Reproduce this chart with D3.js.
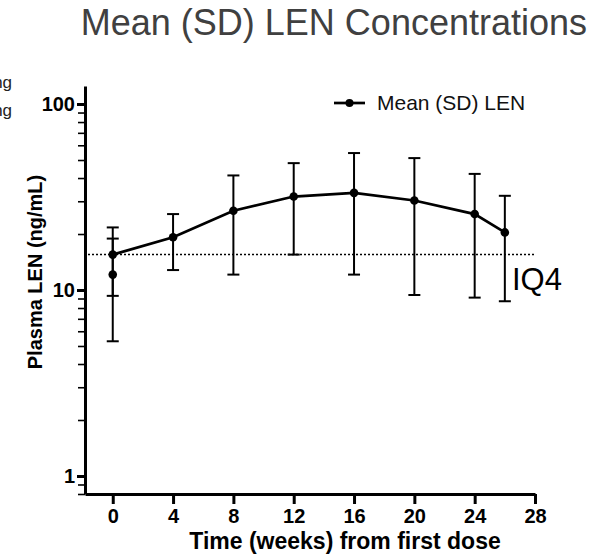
<!DOCTYPE html>
<html>
<head>
<meta charset="utf-8">
<script src="https://cdn.jsdelivr.net/npm/d3@7"></script>
<style>
  body { margin: 0; background: #fff; }
  svg { display: block; font-family: "Liberation Sans", Arial, sans-serif; }
</style>
</head>
<body>
<div id="chart"></div>
<script>
const width = 602;
const height = 556;

// mean (SD) plasma LEN, ng/mL
const weeks = [0, 4, 8, 12, 16, 20, 24, 26];
const meanLEN = [15.5, 19.2, 26.7, 31.8, 33.3, 30.3, 25.6, 20.4];
const sdLEN = [6.2, 6.4, 14.6, 16.3, 21.2, 20.9, 16.5, 11.7];

// the extra, unconnected point at week 0
const extraWeeks = [0];
const extraMean = [12.1];
const extraSD = [6.8];

const iq4 = 15.5;
const xTicks = [0, 4, 8, 12, 16, 20, 24, 28];
const yMajor = [1, 10, 100];
const yMinor = [0.8, 0.9, 2, 3, 4, 5, 6, 7, 8, 9, 20, 30, 40, 50, 60, 70, 80, 90];

const titleText = "Mean (SD) LEN Concentrations";
const legendText = "Mean (SD) LEN";
const xTitle = "Time (weeks) from first dose";
const yTitle = "Plasma LEN (ng/mL)";
const leftStub = ["mg", "mg"];

const svg = d3.select("#chart").append("svg")
  .attr("width", width)
  .attr("height", height);

svg.append("rect").attr("width", width).attr("height", height).attr("fill", "#fff");

const x = d3.scaleLinear()
  .domain([-1.84, 28])
  .range([85, 535]);

const y = d3.scaleLog()
  .domain([0.8, 125])
  .range([494, 86]);

// title
svg.append("text")
  .attr("x", 587)
  .attr("y", 35)
  .attr("text-anchor", "end")
  .attr("font-size", 36)
  .attr("fill", "#404040")
  .text(titleText);

// clipped legend text from a neighbouring panel
svg.selectAll(".stub")
  .data(leftStub)
  .join("text")
  .attr("class", "stub")
  .attr("x", 12)
  .attr("y", (d, i) => 88 + i * 28)
  .attr("text-anchor", "end")
  .attr("font-size", 17)
  .attr("fill", "#222")
  .text(d => d);

// IQ4 reference line
svg.append("line")
  .attr("x1", x(-1.84) + 3)
  .attr("x2", x(28))
  .attr("y1", y(iq4))
  .attr("y2", y(iq4))
  .attr("stroke", "#000")
  .attr("stroke-width", 1.5)
  .style("stroke-dasharray", "2,2");

svg.append("text")
  .attr("x", 512)
  .attr("y", 290)
  .attr("font-size", 31)
  .attr("fill", "#000")
  .text("IQ4");

// error bars
const rows = weeks.map((w, i) => ({w: w, m: meanLEN[i], sd: sdLEN[i]}))
  .concat(extraWeeks.map((w, i) => ({w: w, m: extraMean[i], sd: extraSD[i]})));

const bars = svg.append("g").attr("stroke", "#000").attr("stroke-width", 2);
rows.forEach(d => {
  const cx = x(d.w);
  bars.append("line")
    .attr("x1", cx).attr("x2", cx)
    .attr("y1", y(d.m + d.sd)).attr("y2", y(d.m - d.sd));
  [d.m + d.sd, d.m - d.sd].forEach(v => {
    bars.append("line")
      .attr("x1", cx - 6).attr("x2", cx + 6)
      .attr("y1", y(v)).attr("y2", y(v));
  });
});

// mean line
svg.append("path")
  .datum(weeks.map((w, i) => [w, meanLEN[i]]))
  .attr("fill", "none")
  .attr("stroke", "#000")
  .attr("stroke-width", 2.7)
  .attr("d", d3.line()
    .x(d => x(d[0]))
    .y(d => y(d[1])));

svg.selectAll(".dot")
  .data(rows)
  .join("circle")
  .attr("class", "dot")
  .attr("cx", d => x(d.w))
  .attr("cy", d => y(d.m))
  .attr("r", 4.3)
  .attr("fill", "#000");

// axes
const yAxisMinor = g => g
  .attr("transform", `translate(${x(-1.84)},0)`)
  .call(d3.axisLeft(y).tickValues(yMinor).tickSize(7).tickSizeOuter(0).tickFormat(""))
  .call(g => g.select(".domain").attr("stroke-width", 3))
  .call(g => g.selectAll(".tick line").attr("stroke-width", 1.6));

const yAxisMajor = g => g
  .attr("transform", `translate(${x(-1.84)},0)`)
  .call(d3.axisLeft(y).tickValues(yMajor).tickSize(8).tickPadding(2).tickFormat(d3.format("d")))
  .call(g => g.select(".domain").remove())
  .call(g => g.selectAll(".tick line").attr("stroke-width", 3))
  .call(g => g.selectAll(".tick text")
    .attr("font-size", 20)
    .attr("font-weight", "bold")
    .attr("font-family", "Liberation Sans, Arial, sans-serif")
    .attr("fill", "#000"));

const xAxis = g => g
  .attr("transform", `translate(0,${y(0.8)})`)
  .call(d3.axisBottom(x).tickValues(xTicks).tickSize(10).tickPadding(5).tickSizeOuter(0))
  .call(g => g.select(".domain").attr("stroke-width", 3))
  .call(g => g.selectAll(".tick line").attr("stroke-width", 3))
  .call(g => g.selectAll(".tick text")
    .attr("font-size", 20)
    .attr("font-weight", "bold")
    .attr("font-family", "Liberation Sans, Arial, sans-serif")
    .attr("fill", "#000"));

svg.append("g").call(yAxisMinor);
svg.append("g").call(yAxisMajor);
svg.append("g").call(xAxis);

// axis titles
svg.append("text")
  .attr("transform", "translate(42,272) rotate(-90)")
  .attr("text-anchor", "middle")
  .attr("font-size", 20)
  .attr("font-weight", "bold")
  .text(yTitle);

svg.append("text")
  .attr("x", 345)
  .attr("y", 549)
  .attr("text-anchor", "middle")
  .attr("font-size", 23)
  .attr("font-weight", "bold")
  .text(xTitle);

// legend
const legend = svg.append("g");
legend.append("line")
  .attr("x1", 334).attr("x2", 365)
  .attr("y1", 103).attr("y2", 103)
  .attr("stroke", "#000")
  .attr("stroke-width", 2.7);
legend.append("circle")
  .attr("cx", 349.5).attr("cy", 103).attr("r", 4)
  .attr("fill", "#000");
legend.append("text")
  .attr("x", 377)
  .attr("y", 110)
  .attr("font-size", 21)
  .attr("fill", "#111")
  .text(legendText);
</script>
</body>
</html>
